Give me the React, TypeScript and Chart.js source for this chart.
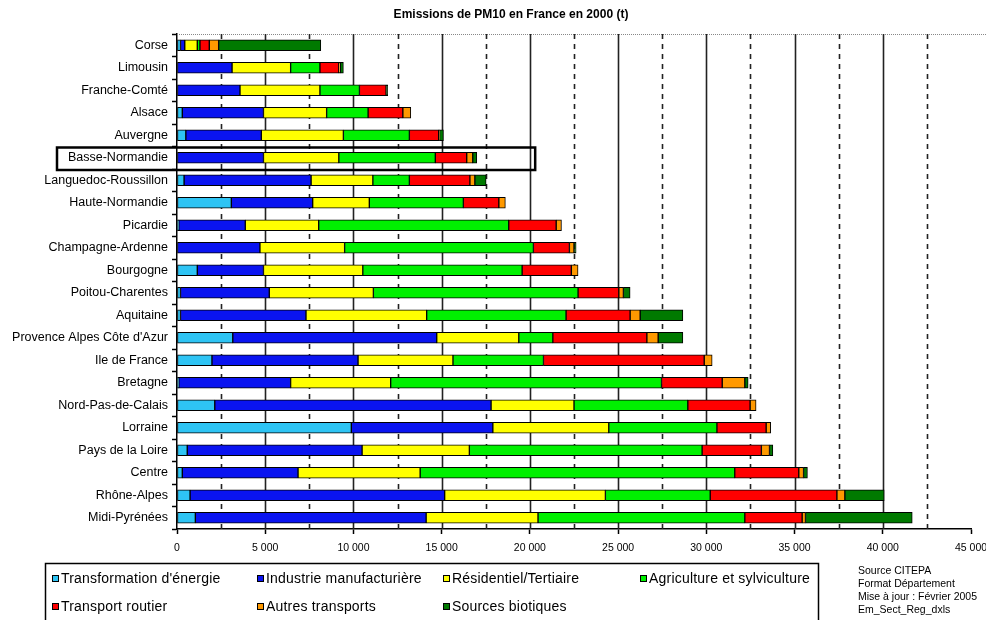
import React, { useEffect, useRef } from "react";
import { Chart, registerables } from "chart.js";

Chart.register(...registerables);

const categories = [
  "Corse", "Limousin", "Franche-Comté", "Alsace", "Auvergne", "Basse-Normandie",
  "Languedoc-Roussillon", "Haute-Normandie", "Picardie", "Champagne-Ardenne",
  "Bourgogne", "Poitou-Charentes", "Aquitaine", "Provence Alpes Côte d'Azur",
  "Ile de France", "Bretagne", "Nord-Pas-de-Calais", "Lorraine", "Pays de la Loire",
  "Centre", "Rhône-Alpes", "Midi-Pyrénées",
];

const transformation = [200, 0, 0, 300, 500, 0, 400, 3080, 100, 0, 1150, 200, 200, 3160, 1980, 100, 2140, 9880, 580, 300, 740, 1040];
const industrie = [240, 3120, 3570, 4600, 4280, 4900, 7200, 4610, 3770, 4700, 3750, 5030, 7110, 11560, 8280, 6340, 15660, 8020, 9910, 6560, 14430, 13080];
const residentiel = [710, 3320, 4530, 3580, 4650, 4270, 3500, 3210, 4160, 4800, 5630, 5900, 6840, 4650, 5380, 5670, 4700, 6570, 6080, 6920, 9110, 6340];
const agriculture = [150, 1660, 2240, 2350, 3740, 5470, 2070, 5330, 10770, 10700, 9030, 11600, 7900, 1930, 5130, 15350, 6450, 6130, 13190, 17830, 5940, 11720];
const routier = [530, 1070, 1510, 1970, 1660, 1780, 3430, 2010, 2690, 2040, 2790, 2310, 3630, 5330, 9110, 3440, 3530, 2790, 3360, 3630, 7180, 3250];
const autres = [530, 80, 0, 450, 50, 340, 280, 370, 300, 260, 380, 260, 570, 640, 450, 1280, 340, 260, 460, 270, 450, 190];
const biotiques = [5790, 180, 90, 0, 220, 230, 640, 0, 0, 120, 0, 380, 2420, 1400, 0, 190, 0, 0, 190, 220, 2230, 6050];

const seriesLabels = [
  "Transformation d'énergie", "Industrie manufacturière", "Résidentiel/Tertiaire",
  "Agriculture et sylviculture", "Transport routier", "Autres transports", "Sources biotiques",
];
const seriesColors = ["#2EC4F4", "#0A14F0", "#FFFF00", "#00F000", "#FF0000", "#FF9900", "#007A00"];
const seriesData = [transformation, industrie, residentiel, agriculture, routier, autres, biotiques];

const xMax = 45000;
const majorStep = 5000;
const minorStep = 2500;
const highlighted = "Basse-Normandie";
const highlightEnd = 20300;

const titleText = "Emissions de PM10 en France en 2000 (t)";
const sourceLines = ["Source CITEPA", "Format Département", "Mise à jour : Février 2005", "Em_Sect_Reg_dxls"];

const FONT = "'Liberation Sans', Arial, sans-serif";

function fmt(v: number) {
  if (v === 0) return "0";
  const s = String(v);
  return s.slice(0, s.length - 3) + " " + s.slice(s.length - 3);
}

const decorPlugin = {
  id: "decor",
  beforeDatasetsDraw(chart: any) {
    const { ctx, chartArea } = chart;
    const xs = chart.scales.x;
    ctx.save();
    ctx.strokeStyle = "#888";
    ctx.lineWidth = 1;
    ctx.setLineDash([1, 1]);
    ctx.beginPath();
    ctx.moveTo(chartArea.left, chartArea.top + 0.5);
    ctx.lineTo(chart.width, chartArea.top + 0.5);
    ctx.stroke();
    for (let v = minorStep; v < xMax; v += minorStep) {
      const x = Math.round(xs.getPixelForValue(v)) + 0.5;
      ctx.strokeStyle = "#222";
      ctx.lineWidth = 1.6;
      ctx.setLineDash(v % majorStep === 0 ? [] : [5, 5]);
      ctx.beginPath();
      ctx.moveTo(x, chartArea.top);
      ctx.lineTo(x, chartArea.bottom);
      ctx.stroke();
    }
    ctx.restore();
  },
  afterDraw(chart: any) {
    const { ctx } = chart;
    const xs = chart.scales.x;
    const ys = chart.scales.y;
    ctx.save();
    ctx.fillStyle = "#000";
    ctx.font = `bold 12px ${FONT}`;
    ctx.textAlign = "center";
    ctx.textBaseline = "middle";
    ctx.fillText(titleText, 511, 15);

    const idx = categories.indexOf(highlighted);
    const yc = ys.getPixelForValue(idx);
    const half = (ys.getPixelForValue(1) - ys.getPixelForValue(0)) / 2;
    ctx.strokeStyle = "#000";
    ctx.lineWidth = 2.5;
    ctx.strokeRect(57, yc - half + 1, xs.getPixelForValue(highlightEnd) - 57, half * 2);

    ctx.lineWidth = 1.5;
    ctx.strokeRect(45.5, 563.5, 773, 70);
    const cols = [52, 257, 443, 640];
    const rows = [579, 607];
    ctx.font = `14px ${FONT}`;
    (ctx as any).letterSpacing = "0.2px";
    ctx.textAlign = "left";
    seriesLabels.forEach((lab, i) => {
      const cx = cols[i % 4];
      const cy = rows[Math.floor(i / 4)];
      ctx.fillStyle = seriesColors[i];
      ctx.fillRect(cx, cy - 4, 7, 7);
      ctx.lineWidth = 1;
      ctx.strokeStyle = "#000";
      ctx.strokeRect(cx + 0.5, cy - 3.5, 6, 6);
      ctx.fillStyle = "#000";
      ctx.fillText(lab, cx + 9, cy);
    });
    (ctx as any).letterSpacing = "0px";

    ctx.font = `10.5px ${FONT}`;
    sourceLines.forEach((s, i) => ctx.fillText(s, 858, 571 + i * 13));
    ctx.restore();
  },
};

export default function App() {
  const ref = useRef<HTMLCanvasElement>(null);
  useEffect(() => {
    document.body.style.margin = "0";
    const datasets = seriesLabels.map((label, i) => ({
      label,
      data: seriesData[i].map((v) => (v === 0 ? null : v)),
      backgroundColor: seriesColors[i],
      borderColor: "#000",
      borderWidth: 1,
      borderSkipped: false as const,
      barThickness: 11,
    }));
    const chart = new Chart(ref.current!, {
      type: "bar",
      data: { labels: categories, datasets },
      plugins: [decorPlugin],
      options: {
        animation: false,
        responsive: false,
        indexAxis: "y",
        layout: { padding: { left: 0, top: 34, right: 15, bottom: 0 } },
        plugins: { legend: { display: false }, tooltip: { enabled: false }, title: { display: false } },
        scales: {
          x: {
            type: "linear",
            stacked: true,
            min: 0,
            max: xMax,
            ticks: {
              stepSize: minorStep,
              autoSkip: false,
              maxRotation: 0,
              padding: 8,
              color: "#000",
              font: { family: FONT, size: 10.5 },
              callback: (v: any) => (v % majorStep === 0 ? fmt(v) : ""),
            },
            grid: {
              drawOnChartArea: false,
              drawTicks: true,
              tickLength: 5,
              tickColor: (c: any) => (c.tick && c.tick.value % majorStep === 0 ? "#000" : "rgba(0,0,0,0)"),
              tickWidth: 1.5,
            },
            border: { display: true, color: "#000", width: 1.5 },
            afterFit: (s: any) => { s.height = 91; s.paddingRight = 0; s.paddingLeft = 0; },
          },
          y: {
            type: "category",
            stacked: true,
            offset: true,
            ticks: { color: "#000", padding: 4, font: { family: FONT, size: 12.5 } },
            grid: { offset: true, drawOnChartArea: false, tickLength: 5, tickColor: "#000", tickWidth: 1.5 },
            border: { display: true, color: "#000", width: 1.5 },
            afterFit: (s: any) => { s.width = 177; s.paddingTop = 0; s.paddingBottom = 0; },
          },
        },
      },
    } as any);
    return () => chart.destroy();
  }, []);
  return (
    <div style={{ position: "absolute", left: 0, top: 0, width: 986, height: 620, background: "#fff" }}>
      <canvas ref={ref} width={986} height={620} style={{ width: 986, height: 620 }} />
    </div>
  );
}
